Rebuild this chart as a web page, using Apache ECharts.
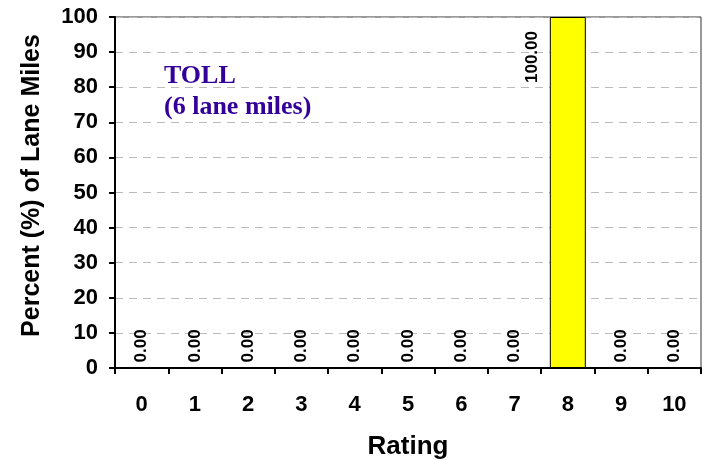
<!DOCTYPE html>
<html>
<head>
<meta charset="utf-8">
<script src="https://cdn.jsdelivr.net/npm/echarts@6/dist/echarts.min.js"></script>
<style>
html,body{margin:0;padding:0;background:#fff;}
#main{width:702px;height:460px;}
</style>
</head>
<body>
<div id="main"></div>
<script>
var ratings = ['0','1','2','3','4','5','6','7','8','9','10'];
var percents = [0, 0, 0, 0, 0, 0, 0, 0, 100, 0, 0];
var yTicks = {min: 0, max: 100, interval: 10};

var chart = echarts.init(document.getElementById('main'));

var barData = percents.map(function(v){
    if (v > 50) {
        // tall bar: label sits left of the bar top, like the original
        return {value: v, label: {position: [-18, 66]}};
    }
    return v;
});

var option = {
    animation: false,
    title: {
        text: 'TOLL\n(6 lane miles)',
        left: 159,
        top: 56,
        textStyle: {
            fontFamily: 'Liberation Serif',
            fontWeight: 'bold',
            fontSize: 26,
            lineHeight: 31,
            color: '#330099'
        }
    },
    grid: {
        left: 115, right: 1, top: 17, bottom: 92,
        outerBoundsMode: 'none',
        show: true,
        borderColor: '#333',
        borderWidth: 1
    },
    xAxis: {
        type: 'category',
        data: ratings,
        name: 'Rating',
        nameLocation: 'middle',
        nameGap: 66,
        nameTextStyle: {fontFamily: 'Liberation Sans', fontWeight: 'bold', fontSize: 26, color: '#000'},
        axisLine: {lineStyle: {color: '#000', width: 2}},
        axisTick: {show: true, length: 6, alignWithLabel: false, lineStyle: {color: '#000', width: 2}},
        axisLabel: {margin: 26, fontFamily: 'Liberation Sans', fontWeight: 'bold', fontSize: 22, color: '#000'},
        splitLine: {show: false}
    },
    yAxis: {
        type: 'value',
        min: yTicks.min,
        max: yTicks.max,
        interval: yTicks.interval,
        name: 'Percent (%) of Lane Miles',
        nameLocation: 'middle',
        nameGap: 70,
        nameTextStyle: {fontFamily: 'Liberation Sans', fontWeight: 'bold', fontSize: 25, color: '#000', padding: [0, 0, 0, 14]},
        axisLine: {show: true, lineStyle: {color: '#000', width: 2}},
        axisTick: {show: true, length: 6, lineStyle: {color: '#000', width: 2}},
        axisLabel: {margin: 17, fontFamily: 'Liberation Sans', fontWeight: 'bold', fontSize: 22, color: '#000'},
        splitLine: {show: true, lineStyle: {color: '#bbb', type: [8, 6], width: 1}}
    },
    series: [{
        type: 'bar',
        data: barData,
        barWidth: 36,
        itemStyle: {color: '#ffff00', borderColor: '#000', borderWidth: 1},
        label: {
            show: true,
            position: 'insideBottom',
            distance: 6,
            rotate: 90,
            align: 'left',
            verticalAlign: 'middle',
            fontFamily: 'Liberation Sans',
            fontWeight: 'bold',
            fontSize: 17,
            color: '#000',
            formatter: function(p){ return p.value.toFixed(2); }
        }
    }]
};
chart.setOption(option);
</script>
</body>
</html>
